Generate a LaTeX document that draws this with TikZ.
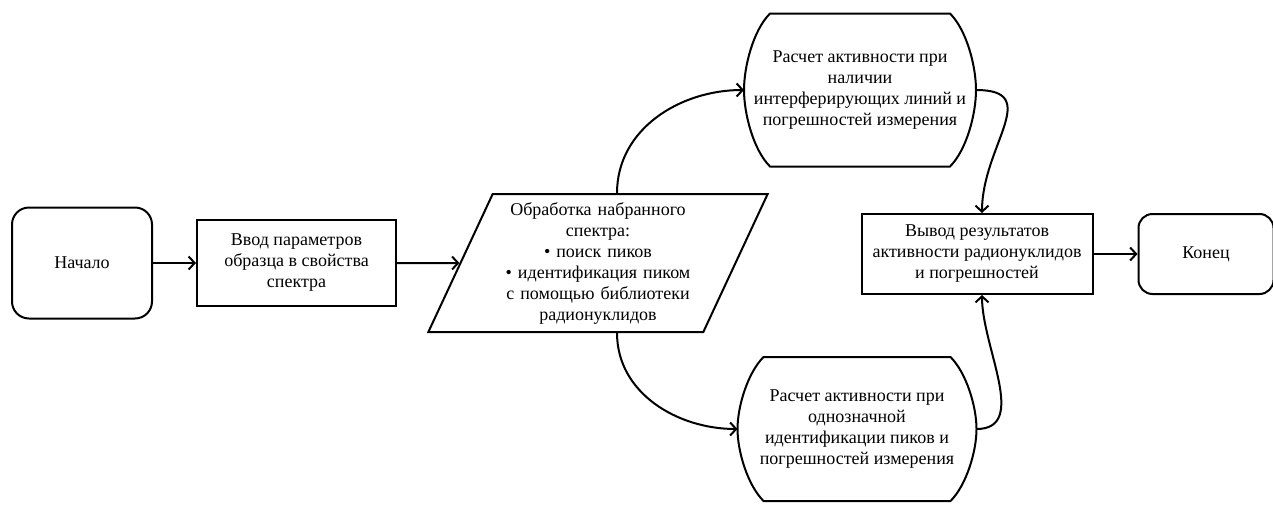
\documentclass[tikz,border=0pt]{standalone}
\usepackage{fontspec}
\setmainfont{Liberation Serif}
\usetikzlibrary{arrows.meta,calc,positioning,shapes.geometric}

\begin{document}
\begin{tikzpicture}[x=1pt,y=1pt,>={Straight Barb[length=6pt,width=13pt]},line width=2pt,
  font=\fontsize{18}{21}\selectfont,node distance=43pt,
  term/.style={draw,rounded corners=17pt,align=center,minimum height=111pt},
  box/.style={draw,align=center,minimum height=86pt},
  calc/.style={align=center,inner sep=1pt}]
  \useasboundingbox (0,0) rectangle (1273,-506);

  \node[term,minimum width=140pt] (S) at (82,-263) {Начало};
  \node[box,right=of S,minimum width=199pt] (V)
    {Ввод параметров\\образца в свойства\\спектра};
  \node[draw,trapezium,trapezium left angle=65,trapezium right angle=115,
    align=center,minimum height=138pt,text width=188pt,inner xsep=2pt,inner ysep=2pt] (P) at (598,-263)
    {Обработка набранного\\спектра:\\• поиск пиков\\• идентификация пиком\\с помощью библиотеки\\радионуклидов};
  \node[calc,minimum width=230pt,minimum height=151pt] (A) at (860,-90)
    {Расчет активности при\\наличии\\интерферирующих линий и\\погрешностей измерения};
  \node[calc,minimum width=237pt,minimum height=142pt] (B) at (857,-429)
    {Расчет активности при\\однозначной\\идентификации пиков и\\погрешностей измерения};
  \node[box,minimum width=231pt,minimum height=80pt] (R) at (977,-254)
    {Вывод результатов\\активности радионуклидов\\и погрешностей};
  \node[term,right=44pt of R,minimum width=135pt,minimum height=80pt,rounded corners=14pt] (E) {Конец};

  % flat top and bottom, bulging sides
  \foreach \n in {A,B}
    \draw ([xshift=26pt]\n.north west) -- ([xshift=-26pt]\n.north east)
      to[out=-45,in=90,looseness=0.75] (\n.east) to[out=-90,in=45,looseness=0.75] ([xshift=-26pt]\n.south east)
      -- ([xshift=26pt]\n.south west) to[out=135,in=-90,looseness=0.75] (\n.west)
      to[out=90,in=-135,looseness=0.75] cycle;

  \draw[->] (S) -- (V);
  \draw[->] (V) -- (P);
  \draw[->] ([xshift=19pt]P.north) to[out=90,in=180] (A.west);
  \draw[->] ([xshift=19pt]P.south) to[out=-90,in=180] (B.west);
  \draw[->] (A.east) to[out=0,in=90,looseness=1.4] ([xshift=5pt]R.north);
  \draw[->] (B.east) to[out=0,in=-90] ([xshift=5pt]R.south);
  \draw[->] (R) -- (E);
\end{tikzpicture}
\end{document}
